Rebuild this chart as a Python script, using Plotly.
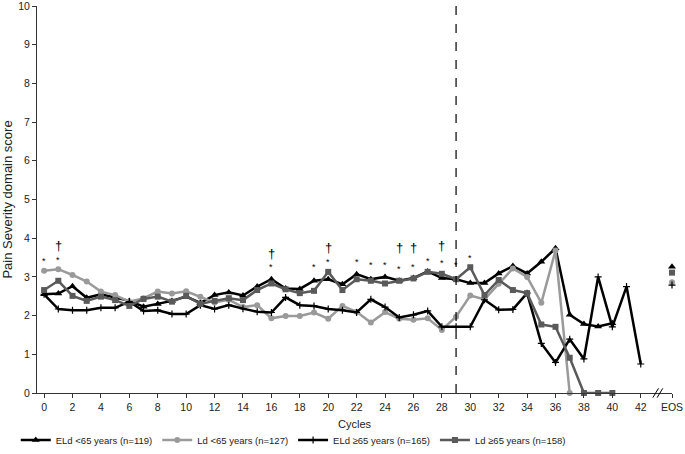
import plotly.graph_objects as go

cycles = list(range(0, 43))
eos_x = 44.2

eld_lt65 = [2.55, 2.57, 2.76, 2.46, 2.55, 2.46, 2.38, 2.23, 2.30, 2.38, 2.49, 2.33, 2.53, 2.60,
            2.52, 2.75, 2.94, 2.70, 2.69, 2.90, 2.94, 2.81, 3.07, 2.94, 3.00, 2.90, 2.97, 3.14,
            2.97, 2.94, 2.84, 2.84, 3.09, 3.28, 3.09, 3.39, 3.74, 2.02, 1.78, 1.72, 1.80]
ld_lt65 = [3.16, 3.20, 3.05, 2.88, 2.62, 2.53, 2.36, 2.45, 2.62, 2.57, 2.63, 2.49, 2.34, 2.41,
           2.22, 2.27, 1.93, 1.99, 1.99, 2.08, 1.92, 2.25, 2.10, 1.82, 2.09, 1.92, 1.89, 1.93,
           1.63, 1.97, 2.52, 2.42, 2.82, 3.22, 3.00, 2.33, 3.68, 0.00]
eld_ge65 = [2.55, 2.17, 2.14, 2.14, 2.20, 2.20, 2.36, 2.12, 2.14, 2.04, 2.04, 2.27, 2.17, 2.27,
            2.18, 2.10, 2.08, 2.47, 2.27, 2.25, 2.17, 2.14, 2.08, 2.42, 2.22, 1.95, 2.02, 2.12,
            1.71, 1.71, 1.71, 2.41, 2.15, 2.16, 2.58, 1.28, 0.79, 1.39, 0.88, 3.00, 1.71, 2.75,
            0.75]
ld_ge65 = [2.66, 2.90, 2.51, 2.38, 2.49, 2.40, 2.25, 2.43, 2.49, 2.36, 2.51, 2.30, 2.38, 2.45,
           2.40, 2.66, 2.83, 2.68, 2.58, 2.64, 3.13, 2.66, 2.94, 2.90, 2.83, 2.90, 2.96, 3.13,
           3.08, 2.94, 3.25, 2.53, 2.92, 2.66, 2.58, 1.77, 1.71, 0.91, 0.00, 0.00, 0.00]

eos_vals = {"eld_lt65": 3.26, "ld_lt65": 2.86, "eld_ge65": 2.79, "ld_ge65": 3.11}

star_cycles = [0, 1, 16, 19, 20, 22, 23, 24, 25, 26, 27, 28, 29, 30]
star_heights = [3.46, 3.49, 3.30, 3.31, 3.43, 3.43, 3.35, 3.35, 3.26, 3.32, 3.45, 3.41, 3.37, 3.55]
dagger_cycles = [1, 16, 20, 25, 26, 28]
dagger_heights = [3.82, 3.61, 3.75, 3.75, 3.76, 3.81]

x_ticks = list(range(0, 43, 2))
x_ticktext = [str(v) for v in x_ticks] + ["EOS"]
x_title = "Cycles"
y_title = "Pain Severity domain score"

series = [
    ("ELd <65 years (n=119)", eld_lt65, eos_vals["eld_lt65"], "#000000", "triangle-up", 7),
    ("Ld <65 years (n=127)", ld_lt65, eos_vals["ld_lt65"], "#9a9a9a", "circle", 6),
    ("ELd \u226565 years (n=165)", eld_ge65, eos_vals["eld_ge65"], "#000000", "cross-thin-open", 5),
    ("Ld \u226565 years (n=158)", ld_ge65, eos_vals["ld_ge65"], "#5a5a5a", "square", 6),
]

fig = go.Figure()
for name, vals, eos, color, sym, sz in series:
    mk = dict(symbol=sym, size=sz, color=color)
    if sym == "cross-thin-open":
        mk["line"] = dict(color=color, width=1.2)
    fig.add_trace(go.Scatter(
        x=cycles[:len(vals)], y=vals, mode="lines+markers", name=name,
        line=dict(color=color, width=2.5), marker=mk, cliponaxis=False,
        legendgroup=name))
    fig.add_trace(go.Scatter(
        x=[eos_x], y=[eos], mode="markers", showlegend=False, marker=mk,
        cliponaxis=False, legendgroup=name))

for c, h in zip(star_cycles, star_heights):
    fig.add_annotation(x=c, y=h, text="*", showarrow=False, xref="x", yref="y",
                       font=dict(size=9, color="#000"), yanchor="middle", yshift=-2)
for c, h in zip(dagger_cycles, dagger_heights):
    fig.add_annotation(x=c, y=h, text="\u2020", showarrow=False, xref="x", yref="y",
                       font=dict(size=13, color="#000"), yanchor="middle")

# x-axis title placed below tick labels
fig.add_annotation(x=0.5, y=-0.08, xref="paper", yref="paper", text=x_title,
                   showarrow=False, yanchor="middle", font=dict(size=11, color="#222"))

# dashed vertical line at cycle 29
fig.add_shape(type="line", x0=29, x1=29, y0=0, y1=10, xref="x", yref="y",
              line=dict(color="#000", width=1.2, dash="dash"))
# axis break marks
for dx in [0.0, 0.3]:
    fig.add_shape(type="line", x0=42.85 + dx, x1=43.25 + dx, y0=-0.012, y1=0.012,
                  xref="x", yref="paper", line=dict(color="#000", width=1))

fig.update_layout(
    width=685, height=454,
    margin=dict(l=37, r=13, t=6, b=61),
    plot_bgcolor="white", paper_bgcolor="white",
    font=dict(family="Liberation Sans, Arial, sans-serif", size=11, color="#222"),
    showlegend=True,
    legend=dict(orientation="h", x=0.023, xanchor="left", xref="container",
                y=0.031, yanchor="middle", yref="container", itemwidth=30,
                font=dict(size=9.5, color="#222"), bgcolor="rgba(0,0,0,0)"),
    xaxis=dict(range=[-0.5, eos_x], tickvals=x_ticks + [eos_x], ticktext=x_ticktext,
               showgrid=False, zeroline=False, showline=True, linecolor="#333", linewidth=1,
               ticks="outside", ticklen=4, tickcolor="#333", ticklabeloverflow="allow",
               tickfont=dict(size=10.5), automargin=False),
    yaxis=dict(range=[0, 10], dtick=1, showgrid=False, zeroline=False, showline=True,
               linecolor="#333", linewidth=1, ticks="outside", ticklen=4, tickcolor="#333",
               ticklabeloverflow="allow", automargin=False, tickfont=dict(size=10.5),
               title=dict(text=y_title, standoff=6)),
)

fig.write_html("out.html", config={"displayModeBar": False},
               post_script="document.body.style.margin='0';")
